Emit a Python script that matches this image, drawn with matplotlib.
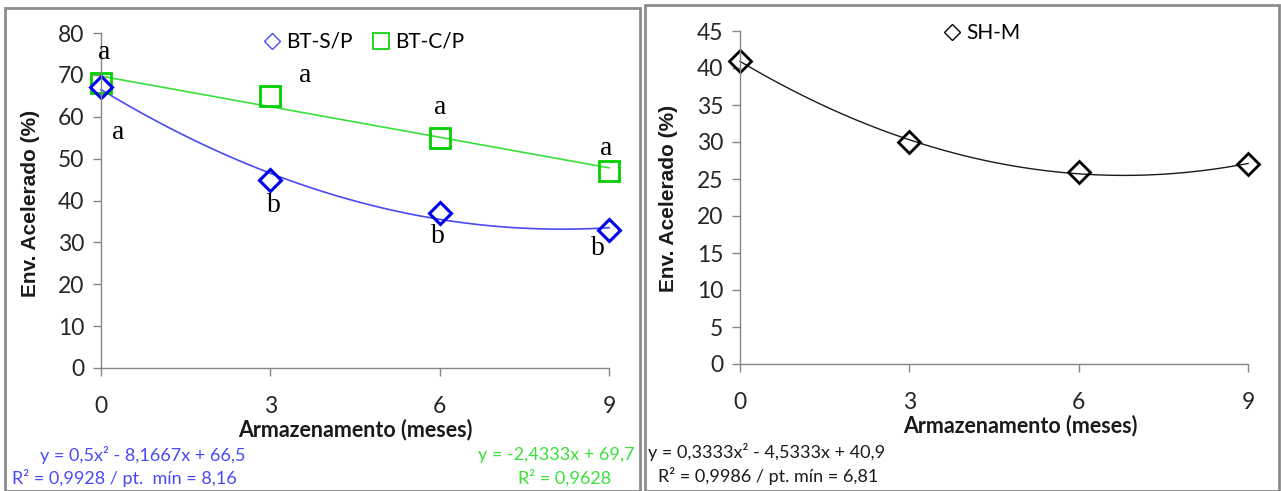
import numpy as np
import matplotlib
matplotlib.use("Agg")
import matplotlib.pyplot as plt
from matplotlib.patches import Rectangle
from matplotlib.lines import Line2D

# Storage time (months)
meses = [0, 3, 6, 9]

# Accelerated ageing germination (%)
bt_sp = [67, 45, 37, 33]
bt_cp = [68, 65, 55, 47]
sh_m = [41, 30, 26, 27]

# Trend-line coefficients (highest power first)
coef_bt_sp = [0.5, -8.1667, 66.5]
coef_bt_cp = [-2.4333, 69.7]
coef_sh_m = [0.3333, -4.5333, 40.9]

# Letters of the mean comparison test
letras_cp = ["a", "a", "a", "a"]
letras_sp = ["a", "b", "b", "b"]

eq_bt_sp = ["y = 0,5x² - 8,1667x + 66,5", "R² = 0,9928 / pt.  mín = 8,16"]
eq_bt_cp = ["y = -2,4333x + 69,7", "R² = 0,9628"]
eq_sh_m = ["y = 0,3333x² - 4,5333x + 40,9", "R² = 0,9986 / pt. mín = 6,81"]

SANS = ["Lato", "DejaVu Sans"]
BLUE = "#0000F0"
BLUE_L = "#4A4AF5"
GREEN = "#00D000"
GREEN_L = "#3AE03A"
SPINE = "#868686"

W, H = 1281, 491
fig = plt.figure(figsize=(W / 100, H / 100), dpi=100)


def fx(px):
    return px / W


def fy(py):
    return 1 - py / H


# Panel frames
for x0, y0, x1 in [(5, 8, 640), (645, 5, 1279)]:
    fig.patches.append(Rectangle((fx(x0), 0), fx(x1 - x0), fy(y0), transform=fig.transFigure,
                                 fill=False, edgecolor="#8c8c8c", lw=2.0, zorder=0))


def style_axes(ax, ymax, ystep):
    for s in ["top", "right"]:
        ax.spines[s].set_visible(False)
    for s in ["left", "bottom"]:
        ax.spines[s].set_color(SPINE)
        ax.spines[s].set_linewidth(1.0)
    ax.set_xlim(0, 9)
    ax.set_ylim(0, ymax)
    ax.set_xticks(meses)
    ax.set_yticks(np.arange(0, ymax + 0.1, ystep))
    ax.tick_params(axis="both", direction="out", length=6, width=1, color=SPINE,
                   labelsize=16.5, labelcolor="#262626")
    ax.tick_params(axis="x", pad=14)
    ax.tick_params(axis="y", pad=6)
    for lab in ax.get_xticklabels() + ax.get_yticklabels():
        lab.set_family(SANS)
    ax.patch.set_alpha(0)


xs = np.linspace(0, 9, 200)

# Left panel: BT-S/P and BT-C/P
ax1 = fig.add_axes([fx(101), fy(368), fx(508), fy(33) - fy(368)])
style_axes(ax1, 80, 10)
ax1.plot(xs, np.polyval(coef_bt_cp, xs), color=GREEN_L, lw=1.2, clip_on=False)
ax1.plot(xs, np.polyval(coef_bt_sp, xs), color=BLUE_L, lw=1.2, clip_on=False)
ax1.plot(meses, bt_cp, ls="none", marker="s", ms=15, mfc="none", mec=GREEN, mew=2.0, clip_on=False)
ax1.plot(meses, bt_sp, ls="none", marker="D", ms=11, mfc="none", mec=BLUE, mew=2.2, clip_on=False)

letter_pos_cp = [(0.05, 75.4), (3.62, 69.9), (6.01, 62.3), (8.95, 52.5)]
letter_pos_sp = [(0.3, 56.3), (3.07, 38.9), (5.97, 31.3), (8.8, 28.6)]
for (x, y), t in zip(letter_pos_cp, letras_cp):
    ax1.text(x, y, t, family="Liberation Serif", fontsize=20, ha="center", va="center")
for (x, y), t in zip(letter_pos_sp, letras_sp):
    ax1.text(x, y, t, family="Liberation Serif", fontsize=20, ha="center", va="center")

h1 = [Line2D([], [], ls="none", marker="D", ms=8, mfc="none", mec=BLUE_L, mew=1.0),
      Line2D([], [], ls="none", marker="s", ms=11, mfc="none", mec=GREEN, mew=1.2)]
leg1 = ax1.legend(h1, ["BT-S/P", "BT-C/P"], loc="center", bbox_to_anchor=(fx(364), fy(42)),
                  bbox_transform=fig.transFigure, ncol=2, frameon=False, handlelength=0.8,
                  handletextpad=0.25, columnspacing=1.0, prop={"family": SANS, "size": 15})

# Right panel: SH-M
ax2 = fig.add_axes([fx(740), fy(364), fx(508), fy(31) - fy(364)])
style_axes(ax2, 45, 5)
ax2.plot(xs, np.polyval(coef_sh_m, xs), color="#1a1a1a", lw=1.0, clip_on=False)
ax2.plot(meses, sh_m, ls="none", marker="D", ms=11, mfc="none", mec="black", mew=2.0, clip_on=False)
h2 = [Line2D([], [], ls="none", marker="D", ms=8, mfc="none", mec="black", mew=1.0)]
ax2.legend(h2, ["SH-M"], loc="center", bbox_to_anchor=(fx(982), fy(33)),
           bbox_transform=fig.transFigure, frameon=False, handlelength=0.8,
           handletextpad=0.25, prop={"family": SANS, "size": 15})

# Axis titles
for xc, yc in [(30, 203), (668, 198)]:
    fig.text(fx(xc), fy(yc), "Env. Acelerado (%)", rotation=90, ha="center", va="center",
             family="Liberation Sans", weight="bold", fontsize=15, color="#1a1a1a")
for xc, yc in [(355, 430), (1020, 426)]:
    fig.text(fx(xc), fy(yc), "Armazenamento (meses)", ha="center", va="center",
             family=SANS, weight="bold", fontsize=15.5, color="#1a1a1a")

# Regression equations
fig.text(fx(40), fy(455), eq_bt_sp[0], ha="left", va="center", family=SANS, fontsize=13, color=BLUE_L)
fig.text(fx(12), fy(478), eq_bt_sp[1], ha="left", va="center", family=SANS, fontsize=13, color=BLUE_L)
fig.text(fx(635), fy(455), eq_bt_cp[0], ha="right", va="center", family=SANS, fontsize=13, color=GREEN_L)
fig.text(fx(565), fy(478), eq_bt_cp[1], ha="center", va="center", family=SANS, fontsize=13, color=GREEN_L)
fig.text(fx(648), fy(452), eq_sh_m[0], ha="left", va="center", family=SANS, fontsize=13, color="#1a1a1a")
fig.text(fx(658), fy(476), eq_sh_m[1], ha="left", va="center", family=SANS, fontsize=13, color="#1a1a1a")

fig.savefig("out.png", dpi=100)
